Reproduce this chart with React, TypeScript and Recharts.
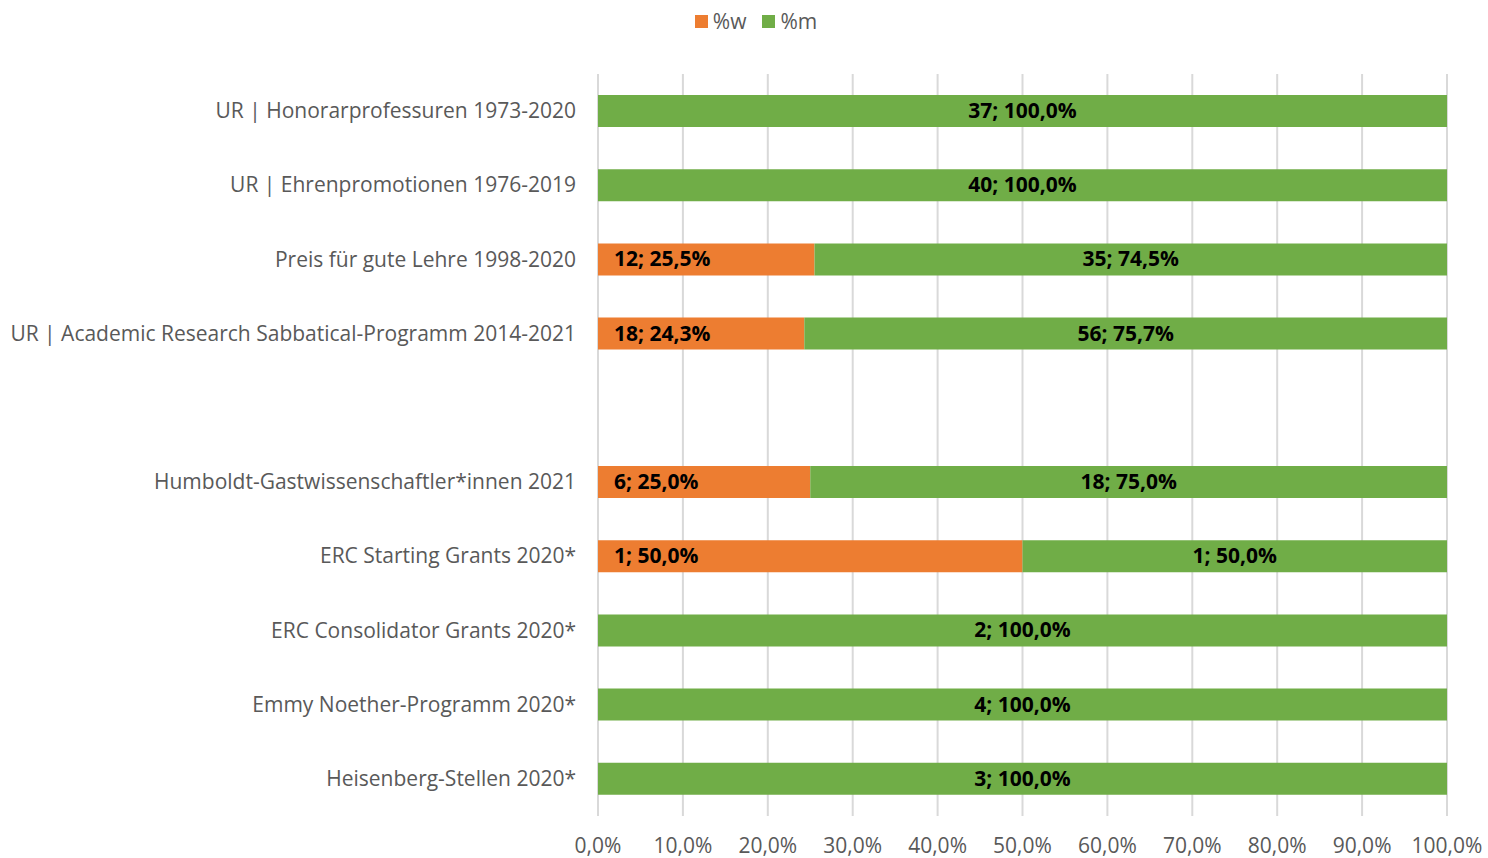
import { BarChart, Bar, XAxis, YAxis, CartesianGrid, LabelList } from "recharts";

const categories = [
  "UR | Honorarprofessuren 1973-2020",
  "UR | Ehrenpromotionen 1976-2019",
  "Preis für gute Lehre 1998-2020",
  "UR | Academic Research Sabbatical-Programm 2014-2021",
  "",
  "Humboldt-Gastwissenschaftler*innen 2021",
  "ERC Starting Grants 2020*",
  "ERC Consolidator Grants 2020*",
  "Emmy Noether-Programm 2020*",
  "Heisenberg-Stellen 2020*",
];
const countW = [0, 0, 12, 18, null, 6, 1, 0, 0, 0];
const countM = [37, 40, 35, 56, null, 18, 1, 2, 4, 3];
const pctW = [0, 0, 25.5, 24.3, null, 25.0, 50.0, 0, 0, 0];
const pctM = [100, 100, 74.5, 75.7, null, 75.0, 50.0, 100, 100, 100];
const xTicks = [0, 10, 20, 30, 40, 50, 60, 70, 80, 90, 100];

const ORANGE = "#ED7D31";
const GREEN = "#70AD47";
const GREY = "#595959";
const FONT = "'Open Sans', sans-serif";
const FS = 21;

const fmt = (v: number) => v.toFixed(1).replace(".", ",") + "%";
const lbl = (n: number | null, p: number | null) =>
  n && p ? `${n}; ${fmt(p)}` : "";

const data = categories.map((name, i) => ({
  name,
  w: pctW[i],
  m: pctM[i],
  lw: lbl(countW[i], pctW[i]),
  lm: lbl(countM[i], pctM[i]),
}));

const SegLabel = (props: any) => {
  const { x, y, width, height, value, left } = props;
  if (!value || !width) return null;
  return (
    <text
      x={left ? x + 16 : x + width / 2}
      y={y + height / 2}
      dy={7}
      textAnchor={left ? "start" : "middle"}
      fontFamily={FONT}
      fontSize={FS}
      fontWeight={700}
      fill="#000"
    >
      {value}
    </text>
  );
};

const YTick = (props: any) => {
  const { x, y, payload } = props;
  return (
    <text x={x - 14} y={y} dy={7} textAnchor="end" fontFamily={FONT} fontSize={FS} fill={GREY}>
      {payload.value}
    </text>
  );
};

const XTick = (props: any) => {
  const { x, y, payload } = props;
  return (
    <text x={x} y={y} dy={29} textAnchor="middle" fontFamily={FONT} fontSize={FS} fill={GREY}>
      {fmt(payload.value)}
    </text>
  );
};

function Legend() {
  const items = [
    { label: "%w", color: ORANGE },
    { label: "%m", color: GREEN },
  ];
  return (
    <div
      style={{
        position: "absolute",
        top: 7,
        left: 0,
        width: 1488,
        display: "flex",
        justifyContent: "center",
        gap: 16,
        paddingLeft: 24,
        boxSizing: "border-box",
        fontFamily: FONT,
        fontSize: FS,
        color: GREY,
      }}
    >
      {items.map((it) => (
        <div key={it.label} style={{ display: "flex", alignItems: "center", gap: 5 }}>
          <span style={{ width: 13, height: 13, background: it.color, display: "inline-block" }} />
          <span>{it.label}</span>
        </div>
      ))}
    </div>
  );
}

export default function App() {
  return (
    <div style={{ position: "absolute", left: 0, top: 0, width: 1488, height: 858, background: "#fff" }}>
      <Legend />
      <BarChart
        width={1488}
        height={858}
        data={data}
        layout="vertical"
        margin={{ top: 74, right: 41, bottom: 12, left: 0 }}
        barSize={32}
      >
        <CartesianGrid horizontal={false} stroke="#d9d9d9" strokeWidth={2} />
        <XAxis
          type="number"
          domain={[0, 100]}
          ticks={xTicks}
          height={30}
          axisLine={false}
          tickLine={false}
          tick={<XTick />}
          interval={0}
        />
        <YAxis
          type="category"
          dataKey="name"
          width={598}
          axisLine={false}
          tickLine={false}
          tick={<YTick />}
          interval={0}
        />
        <Bar dataKey="w" stackId="a" fill={ORANGE} isAnimationActive={false}>
          <LabelList dataKey="lw" content={<SegLabel left />} />
        </Bar>
        <Bar dataKey="m" stackId="a" fill={GREEN} isAnimationActive={false}>
          <LabelList dataKey="lm" content={<SegLabel />} />
        </Bar>
      </BarChart>
    </div>
  );
}
